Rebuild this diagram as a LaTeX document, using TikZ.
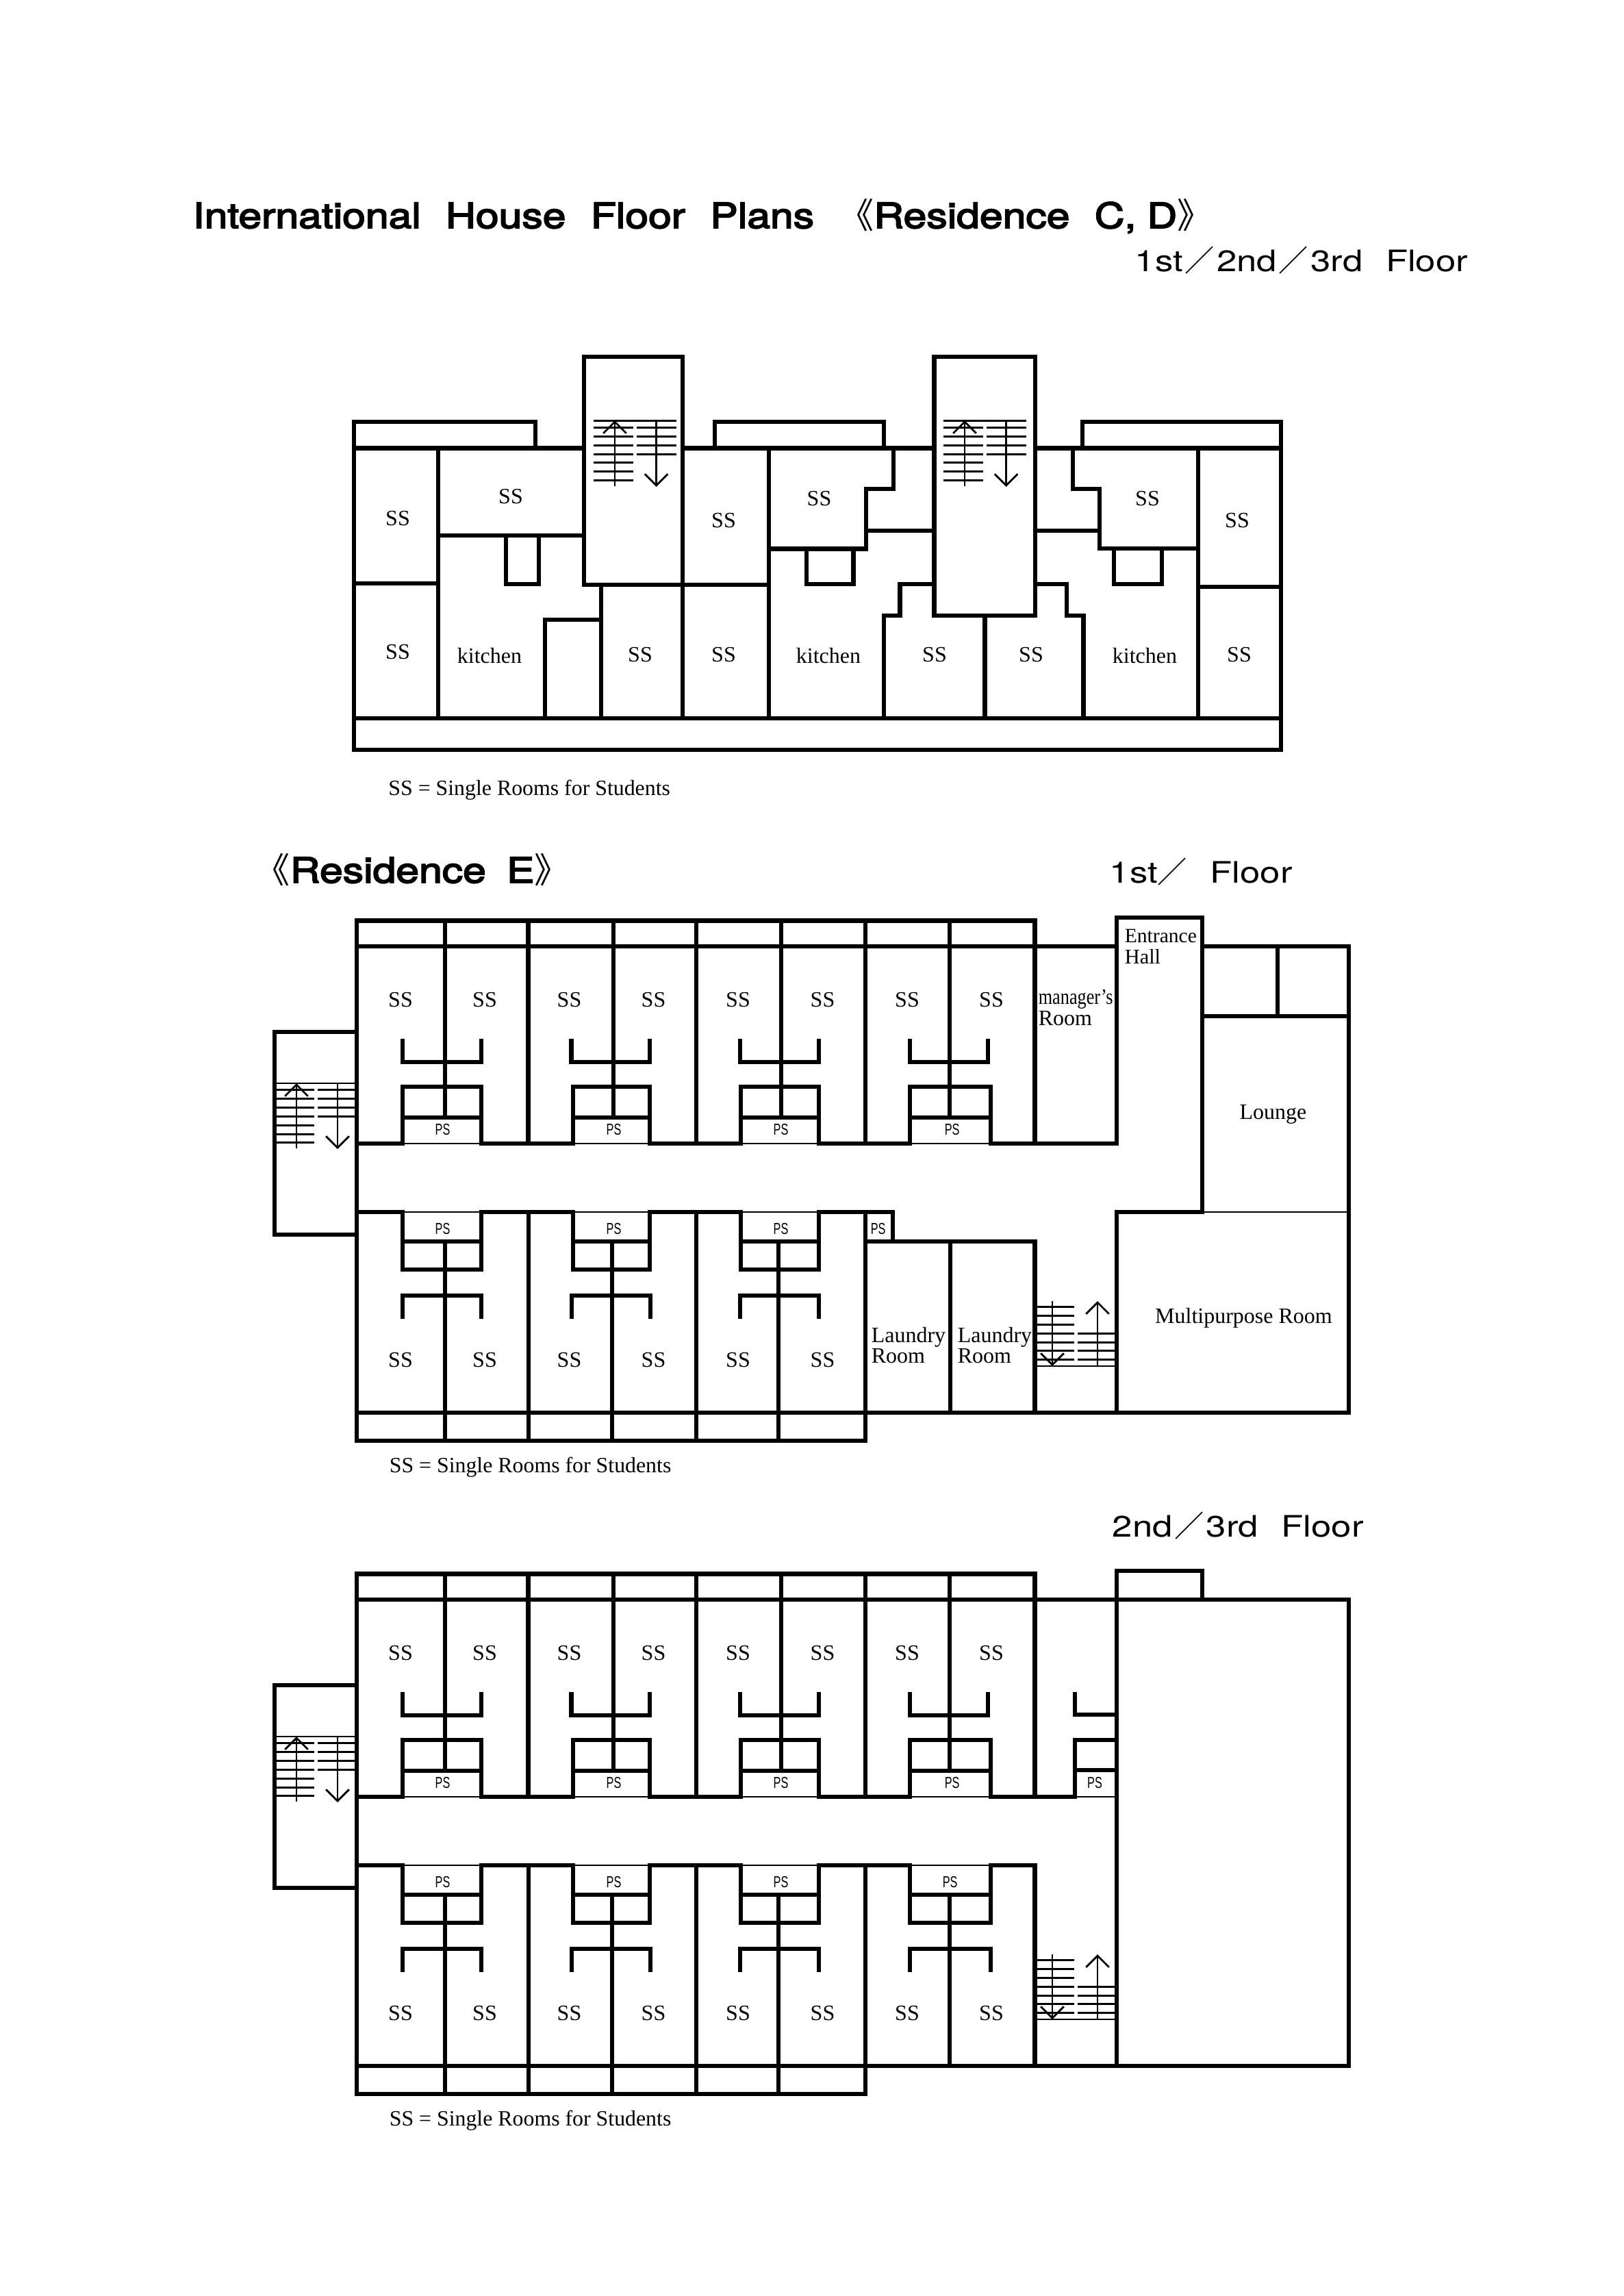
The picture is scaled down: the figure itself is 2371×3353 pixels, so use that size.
\documentclass[tikz,border=0pt]{standalone}
\usepackage{fontspec}
\usetikzlibrary{arrows.meta}
\setmainfont{Liberation Serif}
\newfontfamily\cjk{Noto Sans CJK JP}
\newfontfamily\headfont{TeX Gyre Heros}[FakeStretch=1.19,FakeBold=3.5,WordSpace=2.15]
\newfontfamily\floorfont{TeX Gyre Heros}[FakeStretch=1.22,WordSpace=2.3]
\newfontfamily\psfont{Liberation Sans}[FakeStretch=0.7]
\newfontfamily\narrowfont{Liberation Serif}[FakeStretch=0.82]
\newcommand{\slashmark}{\hspace{.75pt}{\cjk ／}\hspace{.75pt}}

\tikzset{
    wall/.style={black, line width=1.65pt, line cap=rect},
    bracket/.style={black, line width=1.65pt},
    thinwall/.style={black, line width=.5pt},
    tread/.style={black, line width=.75pt},
    toptread/.style={black, line width=.5pt},
    stairarrow/.style={black, line width=.7pt, -{Straight Barb[length=4.2pt,width=8.4pt]}},
    room/.style={inner sep=0pt, anchor=base, font=\fontsize{8}{7.5}\selectfont},
    roomleft/.style={inner sep=0pt, anchor=base west, font=\fontsize{8}{7.5}\selectfont},
    note/.style={inner sep=0pt, anchor=base west, font=\fontsize{7.96}{7.5}\selectfont},
    pslabel/.style={inner sep=0pt, anchor=base, font=\psfont\fontsize{5.8}{6}\selectfont},
    heading/.style={inner sep=0pt, anchor=base west, font=\headfont\fontsize{12.75}{14}\selectfont},
    floorlabel/.style={inner sep=0pt, anchor=base west, font=\floorfont\fontsize{10.8}{12}\selectfont},
}

% stairs of residence C, D
\newcommand{\stairsCD}[1]{
    \begin{scope}[shift={(#1,0)}]
        \draw[tread] (867,614) -- (987.6,614);
        \foreach \y in {624,637,650,663,675.5,688.5,701.5} \draw[tread] (867,\y) -- (925,\y);
        \foreach \y in {624,637,650,663} \draw[tread] (930,\y) -- (987.6,\y);
        \draw[stairarrow] (898,710) -- (898,614);
        \draw[stairarrow] (958.6,614) -- (958.6,711);
    \end{scope}
}
% room block on the north side of the corridor: box left, box right, U left, U right, wall
\newcommand{\blockN}[5]{
    \draw[wall] (#5,1344.5) -- (#5,1632);
    \draw[bracket] (#3,1517) -- (#3,1551) -- (#4,1551) -- (#4,1517);
    \draw[wall] (#1,1670) -- (#1,1587) -- (#2,1587) -- (#2,1670);
    \draw[wall] (#1,1632) -- (#2,1632);
    \draw[thinwall] (#1,1670) -- (#2,1670);
}
% room block on the south side of the corridor, the last value is where its wall ends
\newcommand{\blockS}[6]{
    \draw[wall] (#5,1813) -- (#5,#6);
    \draw[bracket] (#3,1926) -- (#3,1892) -- (#4,1892) -- (#4,1926);
    \draw[wall] (#1,1770) -- (#1,1854) -- (#2,1854) -- (#2,1770);
    \draw[wall] (#1,1813) -- (#2,1813);
    \draw[thinwall] (#1,1770) -- (#2,1770);
}
% parts that the floors of residence E share
\newcommand{\wingE}{
    \draw[wall] (521,1344.5) -- (1511.5,1344.5);
    \draw[wall] (521,1344.5) -- (521,2104) -- (1264,2104) -- (1264,1770);
    \draw[wall] (521,2063) -- (1970,2063) -- (1970,1382);
    \draw[wall] (521,1507) -- (401,1507) -- (401,1803) -- (521,1803);
    \foreach \x in {771.5,1017,1264,1511.5} \draw[wall] (\x,1344.5) -- (\x,1670);
    \foreach \x in {772,1017} \draw[wall] (\x,1770) -- (\x,2104);
    % west stairs
    \draw[toptread] (404,1582) -- (518,1582);
    \foreach \y in {1591,1604,1617,1630,1643,1656,1668} \draw[tread] (404,\y) -- (459,\y);
    \foreach \y in {1591,1604,1617,1630} \draw[tread] (464,\y) -- (518,\y);
    \draw[stairarrow] (433,1677) -- (433,1582);
    \draw[stairarrow] (493,1582) -- (493,1678);
    % east stairs
    \draw[toptread] (1514.5,1995) -- (1628,1995);
    \foreach \y in {1908,1921,1934,1947,1960,1972.6,1985} \draw[tread] (1514.5,\y) -- (1569,\y);
    \foreach \y in {1947,1960,1972.6,1985} \draw[tread] (1574,\y) -- (1628,\y);
    \draw[stairarrow] (1537,1900) -- (1537,1995);
    \draw[stairarrow] (1603,1995) -- (1603,1900);
    \blockN{588}{703}{588}{703}{650}
    \blockN{837}{949}{834.5}{949}{896}
    \blockN{1082}{1196}{1081}{1196}{1141}
    \blockN{1329}{1447}{1329}{1443}{1387}
    \blockS{588}{703}{588}{703}{650}{2104}
    \blockS{837}{949}{835}{950}{894}{2104}
    \blockS{1082}{1196}{1081}{1196}{1137}{2104}
    \foreach \x in {585,708,831.5,954.5,1078,1201.5,1325,1448} \node[room] (ssN\x) at (\x,1470) {SS};
    \foreach \x in {585,708,831.5,954.5,1078,1201.5} \node[room] (ssS\x) at (\x,1996) {SS};
    \foreach \x in {646.5,896.5,1140.5,1390.7} \node[pslabel] (psN\x) at (\x,1657) {PS};
    \foreach \x in {646.5,896.5,1140.5} \node[pslabel] (psS\x) at (\x,1802) {PS};
    \node[note] (noteE) at (568,2150) {SS = Single Rooms for Students};
}

\begin{document}
\begin{tikzpicture}[x=.25pt,y=-.25pt]
    \useasboundingbox (0,0) rectangle (2371,3353);

    \node[heading] (title) at (281,333) {International House Floor Plans {\cjk 《}Residence C,\hspace{4pt}D{\cjk 》}};
    \node[floorlabel] (floorsCD) at (1657,396) {1st\slashmark 2nd\slashmark 3rd Floor};

    % residence C, D
    \draw[wall] (517,654.5) -- (517,616) -- (782,616) -- (782,654.5);
    \draw[wall] (1044,654.5) -- (1044,616) -- (1291,616) -- (1291,654.5);
    \draw[wall] (1581,654.5) -- (1581,616) -- (1871,616) -- (1871,654.5);
    \draw[wall] (517,654.5) -- (517,1095) -- (1871,1095) -- (1871,654.5);
    \draw[wall] (517,654.5) -- (853,654.5);
    \draw[wall] (997,654.5) -- (1364.5,654.5);
    \draw[wall] (1512,654.5) -- (1871,654.5);
    \draw[wall] (517,1049) -- (1871,1049);
    \draw[wall] (853,521) rectangle (997,854);% stair well
    \draw[wall] (1364.5,521) rectangle (1512,899);% stair well
    \stairsCD{0}
    \stairsCD{511}
    % west wing
    \draw[wall] (640,654.5) -- (640,1049);
    \draw[wall] (517,852) -- (640,852);
    \draw[wall] (640,782) -- (853,782);
    \draw[wall] (739,782) -- (739,853) -- (787,853) -- (787,782);
    \draw[wall] (878,854) -- (878,1049);
    \draw[wall] (796,1049) -- (796,905) -- (878,905);
    \draw[wall] (997,854) -- (1123,854);
    \draw[wall] (997,854) -- (997,1049);
    \draw[wall] (1123,654.5) -- (1123,1049);
    % middle wing
    \draw[wall] (1305,654.5) -- (1305,714) -- (1265,714) -- (1265,801.5) -- (1123,801.5);
    \draw[wall] (1265,775) -- (1364.5,775);
    \draw[wall] (1178,801.5) -- (1178,853) -- (1246.5,853) -- (1246.5,801.5);
    \draw[wall] (1291,1049) -- (1291,899) -- (1314.5,899) -- (1314.5,853) -- (1364.5,853);
    \draw[wall] (1438.6,899) -- (1438.6,1049);
    \draw[wall] (1512,853) -- (1558,853) -- (1558,899) -- (1582.5,899) -- (1582.5,1049);
    % east wing
    \draw[wall] (1567,654.5) -- (1567,714) -- (1606,714) -- (1606,801) -- (1750,801);
    \draw[wall] (1512,775) -- (1606,775);
    \draw[wall] (1627,801) -- (1627,853) -- (1697,853) -- (1697,801);
    \draw[wall] (1750,654.5) -- (1750,1049);
    \draw[wall] (1750,857) -- (1871,857);

    \node[room] (ssA) at (581,767) {SS};
    \node[room] (ssB) at (581,962) {SS};
    \node[room] (ssC) at (746,735) {SS};
    \node[room] (ssD) at (935,966) {SS};
    \node[room] (ssE) at (1057,770) {SS};
    \node[room] (ssF) at (1057,966) {SS};
    \node[room] (ssG) at (1196.5,738) {SS};
    \node[room] (ssH) at (1365,966) {SS};
    \node[room] (ssI) at (1506,966) {SS};
    \node[room] (ssJ) at (1676,738) {SS};
    \node[room] (ssK) at (1807,770) {SS};
    \node[room] (ssL) at (1810,966) {SS};
    \node[room] (kitchenA) at (715,968) {kitchen};
    \node[room] (kitchenB) at (1210,968) {kitchen};
    \node[room] (kitchenC) at (1672,968) {kitchen};
    \node[note] (noteCD) at (566.6,1161.7) {SS = Single Rooms for Students};

    % residence E, 1st floor
    \node[heading] (titleE) at (372,1289) {{\cjk 《}Residence\hspace{-1.5pt} E{\cjk 》}};
    \node[floorlabel] (floorE) at (1620,1289) {1st{\cjk ／} Floor};
    \wingE
    \draw[wall] (521,1382) -- (1631,1382);
    \foreach \a/\b in {521/588,703/837,949/1082,1196/1329,1447/1631} \draw[wall] (\a,1670) -- (\b,1670);
    \foreach \a/\b in {521/588,703/837,949/1082,1196/1304} \draw[wall] (\a,1770) -- (\b,1770);
    \draw[wall] (1304,1770) -- (1304,1813) -- (1264,1813);
    \draw[wall] (1264,1813) -- (1511.5,1813) -- (1511.5,2063);
    \draw[wall] (1388,1813) -- (1388,2063);
    \draw[wall] (1631,1670) -- (1631,1340) -- (1756,1340) -- (1756,1770) -- (1631,1770) -- (1631,2063);
    \draw[thinwall] (1756,1770) -- (1970,1770);
    \draw[wall] (1756,1382) -- (1970,1382);
    \draw[wall] (1756,1484) -- (1970,1484);
    \draw[wall] (1866,1382) -- (1866,1484);
    \node[pslabel] (psLaundry) at (1282.7,1802) {PS};
    \node[inner sep=0pt, anchor=base west, font=\narrowfont\fontsize{8}{7.5}\selectfont] (managerA) at (1516,1466.4) {manager’s};
    \node[roomleft] (managerB) at (1516,1497) {Room};
    \node[roomleft, font=\fontsize{7.4}{7.5}\selectfont] (entrance) at (1642,1376) {Entrance};
    \node[roomleft, font=\fontsize{7.6}{7.5}\selectfont] (hall) at (1642,1407) {Hall};
    \node[room] (lounge) at (1859.5,1634) {Lounge};
    \node[room] (multi) at (1816.5,1932) {Multipurpose Room};
    \node[roomleft] (laundryA) at (1272,1960) {Laundry};
    \node[roomleft] (laundryB) at (1272,1990) {Room};
    \node[roomleft] (laundryC) at (1398,1960) {Laundry};
    \node[roomleft] (laundryD) at (1398,1990) {Room};

    % residence E, 2nd and 3rd floor
    \node[floorlabel] (floorUp) at (1624,2244) {2nd\slashmark 3rd Floor};
    \begin{scope}[shift={(0,954)}]
        \wingE
        \blockS{1329}{1447}{1329}{1447}{1387}{2063}
        \draw[wall] (521,1382) -- (1970,1382);
        \foreach \a/\b in {521/588,703/837,949/1082,1196/1329,1447/1570} \draw[wall] (\a,1670) -- (\b,1670);
        \foreach \a/\b in {521/588,703/837,949/1082,1196/1329,1447/1511.5} \draw[wall] (\a,1770) -- (\b,1770);
        \draw[wall] (1511.5,1770) -- (1511.5,2063);
        \draw[wall] (1631,1382) -- (1631,1340) -- (1756,1340) -- (1756,1382);
        \draw[wall] (1631,1340) -- (1631,2063);
        \draw[bracket] (1570,1517) -- (1570,1550) -- (1631,1550);
        \draw[wall] (1631,1587) -- (1570,1587) -- (1570,1670);
        \draw[wall] (1570,1631) -- (1631,1631);
        \draw[thinwall] (1570,1670) -- (1631,1670);
        \node[pslabel] (psHalf) at (1599,1657) {PS};
        \node[pslabel] (psFour) at (1387.7,1802) {PS};
        \foreach \x in {1325,1448} \node[room] (ssLast\x) at (\x,1996) {SS};
    \end{scope}
\end{tikzpicture}
\end{document}
